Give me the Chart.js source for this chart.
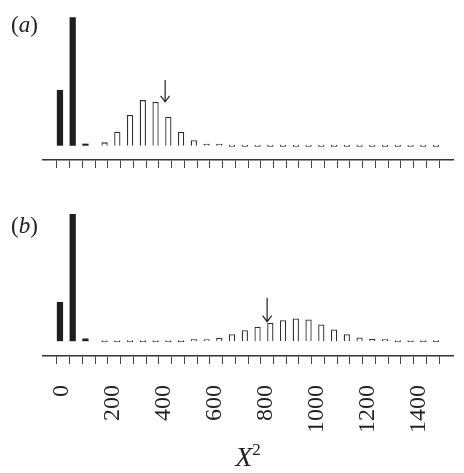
<!DOCTYPE html>
<html>
<head>
<meta charset="utf-8">
<script src="https://cdn.jsdelivr.net/npm/chart.js@4.4.1/dist/chart.umd.min.js"></script>
<style>
  body { margin: 0; background: #fff; width: 464px; height: 473px; position: relative; overflow: hidden; font-family: 'Liberation Serif', 'DejaVu Serif', serif; color: #222; }
  canvas { position: absolute; left: 0; }
  .tag { position: absolute; left: 11px; font-size: 23px; line-height: 23px; }
  #xtitle { position: absolute; left: 0; width: 496px; top: 442px; text-align: center; font-size: 28px; line-height: 30px; }
  #xtitle sup { font-size: 17px; font-style: normal; vertical-align: 0; position: relative; top: -11px; }
</style>
</head>
<body>
<canvas id="chartA" width="464" height="170" style="top:0"></canvas>
<canvas id="chartB" width="464" height="261" style="top:195px"></canvas>
<div class="tag" style="top:13px">(<i>a</i>)</div>
<div class="tag" style="top:214px">(<i>b</i>)</div>
<div id="xtitle"><i>X</i><sup>2</sup></div>
<script>
// --- 데이터 (구간 시작값, 폭 50) ---
const binWidth = 50;
const binStarts = [0, 50, 100, 150, 200, 250, 300, 350, 400, 450,
                   500, 550, 600, 650, 700, 750, 800, 850, 900, 950,
                   1000, 1050, 1100, 1150, 1200, 1250, 1300, 1350, 1400, 1450];
const tickEdges = [0, 50, 100, 150, 200, 250, 300, 350, 400, 450, 500,
                   550, 600, 650, 700, 750, 800, 850, 900, 950, 1000,
                   1050, 1100, 1150, 1200, 1250, 1300, 1350, 1400, 1450, 1500];
const tickLabels = ['0', '200', '400', '600', '800', '1000', '1200', '1400'];

// (a) 검은 막대 / 흰 막대 (흰 막대는 네 번째 구간부터 그려짐)
const darkA = [0.298, 0.687, 0.011, 0, 0, 0, 0, 0, 0, 0,
               0, 0, 0, 0, 0, 0, 0, 0, 0, 0,
               0, 0, 0, 0, 0, 0, 0, 0, 0, 0];
const openA = [null, null, null, 0.018, 0.075, 0.164, 0.244, 0.234, 0.155, 0.073,
               0.029, 0.011, 0.005, 0, 0, 0, 0, 0, 0, 0,
               0, 0, 0, 0, 0, 0, 0, 0, 0, 0];

// (b) 검은 막대 / 흰 막대
const darkB = [0.232, 0.752, 0.016, 0, 0, 0, 0, 0, 0, 0,
               0, 0, 0, 0, 0, 0, 0, 0, 0, 0,
               0, 0, 0, 0, 0, 0, 0, 0, 0, 0];
const openB = [null, null, null, 0, 0, 0, 0, 0, 0, 0,
               0.006, 0.012, 0.020, 0.041, 0.065, 0.085, 0.108, 0.124, 0.134, 0.128,
               0.099, 0.069, 0.041, 0.022, 0.014, 0.006, 0, 0, 0, 0];

// 화살표 위치 (X^2 값, 시작/끝 높이)
const arrowA = { at: 425, from: 0.351, to: 0.235 };
const arrowB = { at: 825, from: 0.256, to: 0.115 };

// --- 화살표 플러그인 ---
const arrowPlugin = {
    id: 'arrowMark',
    afterDatasetsDraw(chart, args, opts) {
        const { ctx } = chart;
        const x = chart.scales.x, y = chart.scales.y;
        const px = x.getPixelForValue(opts.at);
        const y0 = y.getPixelForValue(opts.from);
        const y1 = y.getPixelForValue(opts.to);
        ctx.save();
        ctx.strokeStyle = '#222';
        ctx.lineWidth = 1.2;
        ctx.beginPath();
        ctx.moveTo(px, y0);
        ctx.lineTo(px, y1);
        ctx.moveTo(px - 4.5, y1 - 6);
        ctx.lineTo(px, y1);
        ctx.lineTo(px + 4.5, y1 - 6);
        ctx.stroke();
        ctx.restore();
    }
};

function toPoints(values) {
    return binStarts.map((s, i) => ({ x: s + binWidth / 2, y: values[i] }));
}

function makePanel(id, dark, open, yMin, yMax, arrow, showLabels, axisH) {
    return new Chart(document.getElementById(id), {
        type: 'bar',
        data: {
            datasets: [
                {
                    data: toPoints(dark),
                    backgroundColor: '#1f1f1f',
                    borderWidth: 0
                },
                {
                    data: toPoints(open),
                    backgroundColor: '#ffffff',
                    borderColor: '#2e2e2e',
                    borderWidth: 1.3,
                    minBarLength: 2
                }
            ]
        },
        options: {
            responsive: false,
            animation: false,
            events: [],
            layout: { padding: { left: 43, right: 11, top: 10, bottom: 0 } },
            datasets: { bar: { categoryPercentage: 1.0, barPercentage: 0.98 } },
            plugins: {
                legend: { display: false },
                tooltip: { enabled: false },
                arrowMark: arrow
            },
            scales: {
                x: {
                    type: 'linear',
                    offset: false,
                    min: -54,
                    max: 1554,
                    afterBuildTicks: s => { s.ticks = tickEdges.map(v => ({ value: v })); },
                    afterFit: s => {
                        s.height = axisH;
                        // 회전된 라벨 때문에 생기는 좌우 여백 제거
                        s.paddingLeft = 0;
                        s.paddingRight = 0;
                    },
                    border: { display: true, color: '#333', width: 1.5 },
                    grid: { display: true, offset: false, drawOnChartArea: false, drawTicks: true, tickLength: 8, color: '#444', lineWidth: 1 },
                    ticks: {
                        display: showLabels,
                        autoSkip: false,
                        minRotation: 90,
                        maxRotation: 90,
                        padding: 21,
                        labelOffset: 5,
                        color: '#222',
                        font: { family: 'Liberation Serif', size: 24 },
                        callback: v => tickLabels.includes(String(v)) ? String(v) : ''
                    }
                },
                y: { display: false, min: yMin, max: yMax }
            }
        },
        plugins: [arrowPlugin]
    });
}

makePanel('chartA', darkA, openA, -0.0765, 0.726, arrowA, false, 10);
makePanel('chartB', darkB, openB, -0.0876, 0.805, arrowB, true, 100);
</script>
</body>
</html>
